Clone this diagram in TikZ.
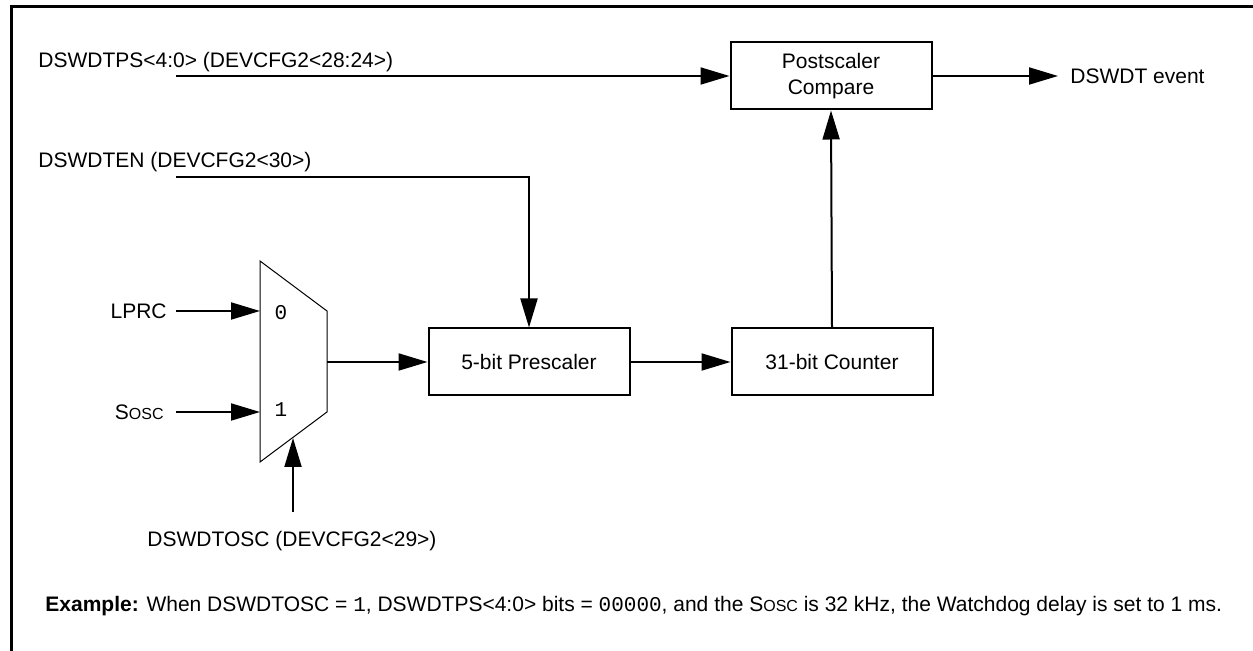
\documentclass[tikz,border=0pt]{standalone}
\usepackage{fontspec}
\setmainfont{Liberation Sans}
\setmonofont{Liberation Mono}
\usetikzlibrary{arrows.meta}
\newcommand{\sosc}{S{\fontsize{8}{9}\selectfont OSC}}
\begin{document}
\begin{tikzpicture}[x=0.5pt,y=-0.5pt,font=\fontsize{10.5}{12.6}\selectfont]
\tikzstyle{blk}=[draw, line width=1pt, minimum width=100.5pt, minimum height=33.5pt,
                 align=center, inner sep=2pt]
\tikzstyle{sig}=[line width=1pt, -{Triangle[length=14.5pt,width=8.5pt]}]
\tikzstyle{txt}=[inner sep=0pt]
\useasboundingbox (0,0) rectangle (1253,651);
\draw[line width=1.5pt] (11,651) -- (11,7) -- (1253,7);
% blocks
\node[blk](post) at (831,76){Postscaler\\Compare};
\node[blk](pre) at (529,362){5-bit Prescaler};
\node[blk](cnt) at (832,362){31-bit Counter};
% multiplexer
\draw[line width=0.5pt] (260,261) -- (327,311) -- (327,412) -- (260,462) -- cycle;
\coordinate(mux0) at (260,311);
\coordinate(mux1) at (260,412);
\coordinate(muxout) at (327,362);
\coordinate(muxsel) at (293,438);
\node[txt, font=\ttfamily\fontsize{10.5}{12}\selectfont](m0) at (281,313){0};
\node[txt, font=\ttfamily\fontsize{10.5}{12}\selectfont](m1) at (281,410){1};
% labels
\node[txt, anchor=west](tps) at (38,62){DSWDTPS<4:0> (DEVCFG2<28:24>)};
\node[txt, anchor=west](en) at (38,162){DSWDTEN (DEVCFG2<30>)};
\node[txt, anchor=east](lprc) at (167,311){LPRC};
\node[txt, anchor=east](sosc) at (164,412){\sosc};
\node[txt](osc) at (292,541){DSWDTOSC (DEVCFG2<29>)};
\node[txt, anchor=west](evt) at (1070,76){DSWDT event};
\coordinate(tpsin) at (176,76);
\coordinate(enin) at (176,177);
\coordinate(lprcin) at (176,311);
\coordinate(soscin) at (176,412);
\coordinate(oscin) at (293,512);
\coordinate(evtout) at (1058,76);
% connectors
\foreach \i/\j in {tpsin/post.west, lprcin/mux0, soscin/mux1, oscin/muxsel,
                   muxout/pre.west, pre.east/cnt.west, cnt.north/post.south, post.east/evtout}{\draw[sig] (\i) -- (\j);}
\draw[sig] (enin) -- (pre.north |- enin) -- (pre.north);
% example
\node[txt, anchor=west](note) at (45,606){\textbf{Example:} When DSWDTOSC = \texttt{1}, DSWDTPS<4:0> bits = \texttt{00000}, and the \sosc{} is 32 kHz, the Watchdog delay is set to 1 ms.};
\end{tikzpicture}
\end{document}
